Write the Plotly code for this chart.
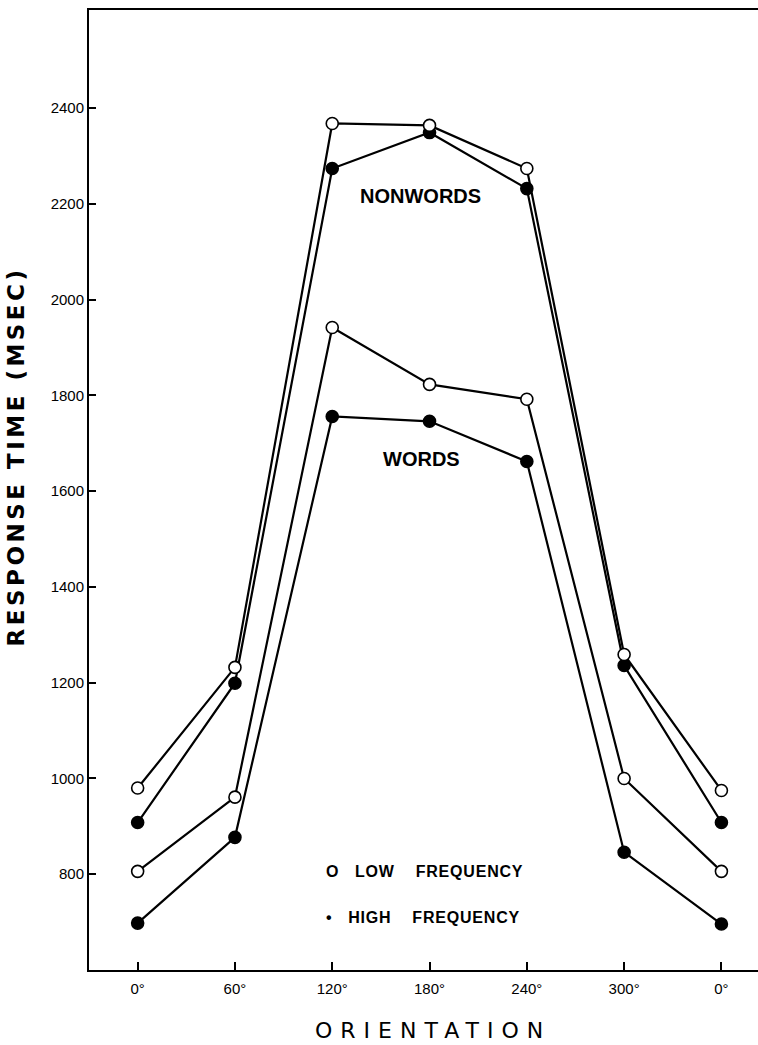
import plotly.graph_objects as go

orientations = ["0°", "60°", "120°", "180°", "240°", "300°", "0°"]
positions = [0, 1, 2, 3, 4, 5, 6]

nonwords_low = [980, 1232, 2368, 2364, 2274, 1259, 975]
nonwords_high = [908, 1199, 2274, 2349, 2232, 1236, 908]
words_low = [806, 961, 1942, 1823, 1792, 1000, 806]
words_high = [698, 877, 1756, 1746, 1662, 846, 696]

y_ticks = [800, 1000, 1200, 1400, 1600, 1800, 2000, 2200, 2400]

fig = go.Figure()

def add(vals, filled):
    fig.add_trace(go.Scatter(
        x=positions, y=vals, mode="lines+markers",
        line=dict(color="black", width=2.2),
        marker=dict(size=12, symbol="circle",
                    color="black" if filled else "white",
                    line=dict(color="black", width=1.6)),
        showlegend=False, hoverinfo="skip"))

add(nonwords_high, True)
add(nonwords_low, False)
add(words_high, True)
add(words_low, False)

txt_font = dict(family="Liberation Sans, Arial, sans-serif", size=20, color="black", weight="bold")
fig.add_annotation(x=2.912, y=2217, text="NONWORDS", showarrow=False, font=txt_font, xanchor="center")
fig.add_annotation(x=2.92, y=1668, text="WORDS", showarrow=False, font=txt_font, xanchor="center")
leg_font = dict(family="Liberation Sans, Arial, sans-serif", size=16, color="black", weight="bold")
fig.add_annotation(x=1.92, y=806, text="<span style='letter-spacing:0.8px'>O   LOW    FREQUENCY</span>",
                   showarrow=False, font=leg_font, xanchor="left")
fig.add_annotation(x=1.92, y=710, text="<span style='letter-spacing:0.8px'>•   HIGH    FREQUENCY</span>",
                   showarrow=False, font=leg_font, xanchor="left")

# axis titles as annotations for exact placement
fig.add_annotation(x=3.035, xref="x", y=-0.0625, yref="paper",
                   text="<span style='letter-spacing:8px'>ORIENTATION</span>",
                   showarrow=False, xanchor="center", yanchor="middle",
                   font=dict(size=22, family="DejaVu Sans, sans-serif", color="black"))
fig.add_annotation(x=0, xref="paper", xshift=-73, y=0.535, yref="paper",
                   text="<span style='letter-spacing:3.5px'>RESPONSE TIME (MSEC)</span>",
                   showarrow=False, xanchor="center", yanchor="middle", textangle=-90,
                   font=dict(size=23, family="DejaVu Sans, sans-serif", color="black", weight="bold"))

fig.update_layout(
    width=758, height=1045,
    margin=dict(l=89, r=0, t=10, b=75),
    paper_bgcolor="white", plot_bgcolor="white",
    font=dict(family="Liberation Sans, Arial, sans-serif", color="black"),
)
fig.update_xaxes(
    range=[-0.5, 6.376], tickvals=positions, ticktext=orientations,
    ticks="inside", ticklen=8, tickwidth=1.5, tickcolor="black",
    showline=True, linecolor="black", linewidth=2, mirror=True,
    showgrid=False, zeroline=False,
    tickfont=dict(size=15, family="Liberation Sans, Arial", color="black"),
    ticklabelstandoff=4,
)
fig.update_yaxes(
    range=[600, 2605], tickvals=y_ticks,
    ticks="inside", ticklen=7, tickwidth=1.5, tickcolor="black",
    showline=True, linecolor="black", linewidth=2, mirror=False,
    showgrid=False, zeroline=False,
    tickfont=dict(size=15, family="Liberation Sans, Arial", color="black"),
)

fig.write_html("out.html",
               config={"displayModeBar": False},
               post_script="document.body.style.margin='0';document.body.style.overflow='hidden';")
